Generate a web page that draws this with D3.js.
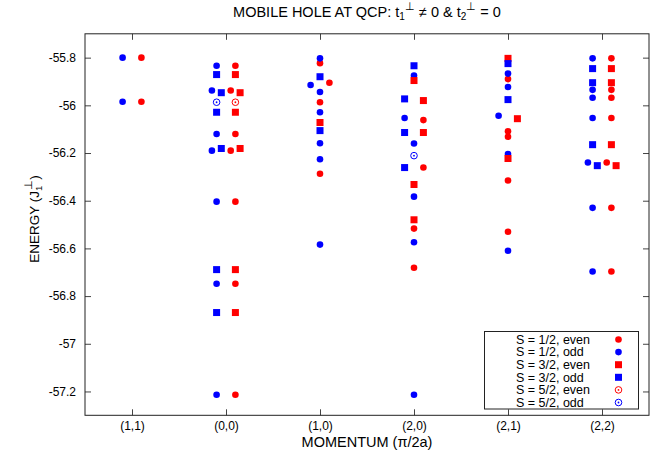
<!DOCTYPE html>
<html>
<head>
<meta charset="utf-8">
<script src="https://cdn.jsdelivr.net/npm/d3@7"></script>
<style>
  body { margin: 0; background: #fff; }
  svg { display: block; font-family: "Liberation Sans", Arial, sans-serif; }
</style>
</head>
<body>
<svg id="chart"></svg>
<script>
// momentum categories, plotted at 1..6
const categories = ["(1,1)", "(0,0)", "(1,0)", "(2,0)", "(2,1)", "(2,2)"];
const yTicks = [-55.8, -56, -56.2, -56.4, -56.6, -56.8, -57, -57.2];

// [x position on momentum axis, energy]
const s12even = [
  [1.1, -55.80], [1.1, -55.985],
  [2.1, -55.834], [2.05, -55.938], [2.1, -56.120], [2.05, -56.190], [2.1, -56.404], [2.1, -56.748], [2.1, -57.214],
  [3, -55.823], [3.1, -55.905], [3, -55.987], [3, -56.287],
  [4.1, -56.062], [4.1, -56.261], [4, -56.517], [4, -56.681],
  [5, -55.890], [5, -56.109], [5, -56.132], [5, -56.315], [5, -56.530],
  [6.1, -55.803], [6.1, -55.935], [6.1, -55.968], [6.1, -56.053], [6.05, -56.240], [6.1, -56.430], [6.1, -56.697]
];
const s12odd = [
  [0.9, -55.80], [0.9, -55.985],
  [1.9, -55.834], [1.85, -55.938], [1.9, -56.120], [1.85, -56.190], [1.9, -56.404], [1.9, -56.748], [1.9, -57.214],
  [3, -55.803], [2.9, -55.915], [3, -55.944], [3, -56.029], [3, -56.159], [3, -56.226], [3, -56.584],
  [4, -55.875], [3.9, -56.053], [4, -56.160], [4, -56.383], [4, -56.574], [4, -57.214],
  [5, -55.867], [5, -55.923], [4.9, -56.044], [5, -56.204], [5, -56.610],
  [5.9, -55.803], [5.9, -55.935], [5.9, -55.968], [5.9, -56.053], [5.85, -56.240], [5.9, -56.430], [5.9, -56.697]
];
const s32even = [
  [2.1, -55.871], [2.15, -55.947], [2.1, -56.029], [2.15, -56.181], [2.1, -56.689], [2.1, -56.869],
  [3, -56.072],
  [4, -55.896], [4.1, -55.980], [4.1, -56.114], [4, -56.332], [4, -56.480],
  [5, -55.803], [5.1, -56.056], [5, -56.223],
  [6.1, -55.846], [6.1, -55.905], [6.1, -56.165], [6.15, -56.253]
];
const s32odd = [
  [1.9, -55.871], [1.95, -55.947], [1.9, -56.029], [1.95, -56.181], [1.9, -56.689], [1.9, -56.869],
  [3, -55.880], [3, -56.106],
  [4, -55.834], [3.9, -55.973], [3.9, -56.114], [3.9, -56.261],
  [5, -55.825], [5, -55.976],
  [5.9, -55.846], [5.9, -55.905], [5.9, -56.165], [5.95, -56.253]
];
const s52even = [[2.1, -55.987]];
const s52odd = [[1.9, -55.987], [4, -56.211]];

const series = [
  { label: "S = 1/2, even", data: s12even, color: "#ff0000", shape: "circle" },
  { label: "S = 1/2, odd", data: s12odd, color: "#0000ff", shape: "circle" },
  { label: "S = 3/2, even", data: s32even, color: "#ff0000", shape: "square" },
  { label: "S = 3/2, odd", data: s32odd, color: "#0000ff", shape: "square" },
  { label: "S = 5/2, even", data: s52even, color: "#ff0000", shape: "open" },
  { label: "S = 5/2, odd", data: s52odd, color: "#0000ff", shape: "open" }
];

const W = 669, H = 461;
const margin = { top: 33.8, right: 20, bottom: 45.7, left: 85 };
const svg = d3.select("#chart").attr("width", W).attr("height", H);

const x = d3.scaleLinear().domain([0.5, 6.5]).range([margin.left, W - margin.right]);
const y = d3.scaleLinear().domain([-57.3, -55.7]).range([H - margin.bottom, margin.top]);
const fmt = d => String(+d.toFixed(1));

// axes (ticks point inward, mirrored)
svg.append("g").attr("transform", `translate(0,${H - margin.bottom})`)
  .call(d3.axisBottom(x).tickValues([1, 2, 3, 4, 5, 6]).tickFormat(i => categories[i - 1])
    .tickSizeInner(-6).tickSizeOuter(0).tickPadding(6));
svg.append("g").attr("transform", `translate(0,${margin.top})`)
  .call(d3.axisTop(x).tickValues([1, 2, 3, 4, 5, 6]).tickFormat("").tickSizeInner(-6).tickSizeOuter(0));
svg.append("g").attr("transform", `translate(${margin.left},0)`)
  .call(d3.axisLeft(y).tickValues(yTicks).tickFormat(fmt).tickSizeInner(-6).tickSizeOuter(0).tickPadding(9));
svg.append("g").attr("transform", `translate(${W - margin.right},0)`)
  .call(d3.axisRight(y).tickValues(yTicks).tickFormat("").tickSizeInner(-6).tickSizeOuter(0));

svg.selectAll(".domain").remove();
svg.selectAll(".tick line").attr("stroke", "#444").attr("stroke-width", 1);
svg.selectAll(".tick text").attr("fill", "#000").style("font-size", "12px")
  .style("font-family", "Liberation Sans, Arial, sans-serif");

svg.append("rect")
  .attr("x", margin.left).attr("y", margin.top)
  .attr("width", W - margin.left - margin.right).attr("height", H - margin.top - margin.bottom)
  .attr("fill", "none").attr("stroke", "#222").attr("stroke-width", 1);

function drawMarker(g, shape, color, cx, cy) {
  if (shape === "circle") {
    g.append("circle").attr("cx", cx).attr("cy", cy).attr("r", 3.3).attr("fill", color);
  } else if (shape === "square") {
    g.append("rect").attr("x", cx - 3.5).attr("y", cy - 3.5).attr("width", 7).attr("height", 7).attr("fill", color);
  } else {
    g.append("circle").attr("cx", cx).attr("cy", cy).attr("r", 3.3)
      .attr("fill", "none").attr("stroke", color).attr("stroke-width", 1);
    g.append("circle").attr("cx", cx).attr("cy", cy).attr("r", 0.9).attr("fill", color);
  }
}

// points
const pts = svg.append("g");
series.forEach(s => {
  s.data.forEach(d => drawMarker(pts, s.shape, s.color, x(d[0]), y(d[1])));
});

// legend
const leg = svg.append("g");
leg.append("rect").attr("x", 484.5).attr("y", 331.5).attr("width", 154).attr("height", 77.5)
  .attr("fill", "#fff").attr("stroke", "#222").attr("stroke-width", 1);
series.forEach((s, i) => {
  const cy = 339.5 + i * 12.6;
  leg.append("text").attr("x", 516).attr("y", cy + 4.3).style("font-size", "12.5px").text(s.label);
  drawMarker(leg, s.shape, s.color, 618.5, cy);
});

// title
const title = svg.append("text").attr("x", (margin.left + W - margin.right) / 2).attr("y", 17)
  .attr("text-anchor", "middle").style("font-size", "14.5px");
title.append("tspan").text("MOBILE HOLE AT QCP: t");
title.append("tspan").attr("dy", 3).style("font-size", "10px").text("1");
title.append("tspan").attr("dy", -10).style("font-size", "11px").text("\u22A5");
title.append("tspan").attr("dy", 7).text(" \u2260 0 & t");
title.append("tspan").attr("dy", 3).style("font-size", "10px").text("2");
title.append("tspan").attr("dy", -10).style("font-size", "11px").text("\u22A5");
title.append("tspan").attr("dy", 7).text(" = 0");

// axis labels
svg.append("text").attr("x", (margin.left + W - margin.right) / 2).attr("y", 447)
  .attr("text-anchor", "middle").style("font-size", "14.5px").text("MOMENTUM (\u03C0/2a)");

// y label: subscript 1 and superscript perp stacked
const yl = svg.append("text").attr("transform", "translate(39,219) rotate(-90)")
  .attr("text-anchor", "middle").style("font-size", "13.5px");
yl.append("tspan").text("ENERGY (J");
yl.append("tspan").attr("dy", 3).style("font-size", "9.5px").text("1");
yl.append("tspan").attr("dy", -10).attr("dx", -4).style("font-size", "10.5px").text("\u22A5");
yl.append("tspan").attr("dy", 7).text(")");
</script>
</body>
</html>
